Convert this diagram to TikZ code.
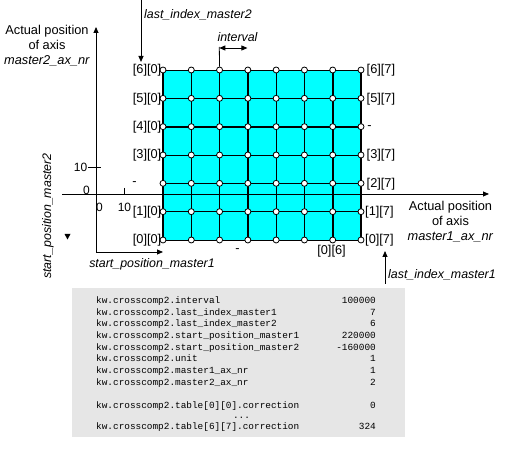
\documentclass[tikz,border=0pt]{standalone}
\usepackage{fontspec}
\setmainfont{Liberation Sans}
\setmonofont{Liberation Mono}
\usetikzlibrary{arrows.meta,calc}
\definecolor{gridcyan}{RGB}{0,255,255}
\definecolor{tablegray}{RGB}{230,230,230}
\begin{document}
\begin{tikzpicture}[x=1pt,y=-1pt,
  lbl/.style={font=\fontsize{12.8}{15}\selectfont, inner sep=0pt},
  nlbl/.style={font=\fontsize{12}{15}\selectfont, inner sep=0pt},
  ilbl/.style={font=\fontsize{12.4}{15}\selectfont\itshape, inner sep=0pt},
  thinl/.style={line width=0.9pt},
  thickl/.style={line width=1.9pt},
  gpt/.style={circle, draw, fill=white, line width=0.8pt, minimum size=6pt, inner sep=0pt},
  arr/.style={line width=0.8pt, -{Triangle[length=6pt,width=5pt]}},
  darr/.style={line width=0.8pt, {Triangle[length=6pt,width=5pt]}-{Triangle[length=6pt,width=5pt]}},
  axl/.style={line width=0.8pt},
  codel/.style={font=\fontsize{9.4}{11}\selectfont\ttfamily, inner sep=0pt, anchor=base west},
  codev/.style={font=\fontsize{9.4}{11}\selectfont\ttfamily, inner sep=0pt, anchor=base east},
  tablebox/.style={fill=tablegray, draw=none}
]
\useasboundingbox (0,0) rectangle (509,462);
\fill[white] (0,0) rectangle (509,462);

% grid coordinates
\foreach \i in {0,...,7}{
  \foreach \j in {0,...,6}{
    \coordinate (c\j-\i) at ({163+28.2857*\i},{240-28.3333*\j});
  }
}
\fill[gridcyan] (c0-0) rectangle (c6-7);

% vertical grid lines
\foreach \i in {1,2,4,5}{\draw[thinl] (c0-\i) -- (c6-\i);}
\foreach \i in {0,3,6,7}{\draw[thickl] (c0-\i) -- (c6-\i);}
% horizontal grid lines
\foreach \j in {0,1,2,3,5,6}{\draw[thinl] (c\j-0) -- (c\j-7);}
\draw[thickl] (c4-0) -- (c4-7);

% axes
\coordinate (yaxbot) at (96,252);
\coordinate (yaxtop) at (96,27);
\coordinate (xaxl) at (62,194);
\coordinate (xaxr) at (489,194);
\draw[arr] (yaxbot) -- (yaxtop);
\draw[arr] (xaxl) -- (xaxr);

% ticks
\coordinate (yt1) at (88,167);
\coordinate (yt2) at (101,167);
\draw[axl] (yt1) -- (yt2);
\coordinate (xt1) at (124,188);
\coordinate (xt2) at (124,194);
\draw[axl] (xt1) -- (xt2);
\node[nlbl, anchor=east] (t10y) at (87.5,167) {10};
\node[nlbl, anchor=east] (t0y) at (90,190) {0};
\node[nlbl] (t0x) at (99.5,207) {0};
\node[nlbl] (t10x) at (124.5,207) {10};

% grid points
\foreach \i in {0,...,7}{
  \foreach \j in {0,...,6}{
    \node[gpt] (p\j-\i) at (c\j-\i) {};
  }
}

% index labels left
\foreach \j in {6,5,4,3,1,0}{
  \node[lbl, anchor=east] (L\j) at ($(c\j-0)+(-1.5,0.5)$) {[\j][0]};
}
% index labels right
\foreach \j in {6,5,3,2}{
  \node[lbl, anchor=west] (R\j) at ($(c\j-7)+(5.5,0.5)$) {[\j][7]};
}
\foreach \j in {1,0}{
  \node[lbl, anchor=west] (R\j) at ($(c\j-7)+(4,0.5)$) {[\j][7]};
}
\node[lbl] (B6) at (331.5,251) {[0][6]};

% small dashes
\node[lbl] (d1) at (134.5,184) {-};
\node[lbl] (d2) at (369.5,127.5) {-};
\node[lbl] (d3) at (237.5,251) {-};

% axis titles
\node[lbl, align=center] (ytitle) at (47,46) {Actual position\\of axis\\\textit{master2\_ax\_nr}};
\node[lbl, align=center] (xtitle) at (450.5,222) {Actual position\\of axis\\\textit{master1\_ax\_nr}};

% start_position_master1
\coordinate (spm1end) at (163,252);
\draw[arr] (yaxbot) -- (spm1end);
\node[ilbl] (spm1) at (152,264) {start\_position\_master1};

% start_position_master2
\node[ilbl, rotate=90] (spm2) at (48,216) {start\_position\_master2};
\coordinate (tri1) at (64.5,234);
\coordinate (tri2) at (70.5,234);
\coordinate (tri3) at (67.5,239.5);
\fill (tri1) -- (tri2) -- (tri3) -- cycle;

% last_index_master2
\coordinate (lim2a) at (141,0);
\coordinate (lim2b) at (141,62);
\draw[arr] (lim2a) -- (lim2b);
\node[ilbl, anchor=west] (lim2) at (144,15) {last\_index\_master2};

% interval
\coordinate (intv) at (219.3,47);
\coordinate (intr) at (247.4,48);
\draw[axl] (p6-2) -- (intv);
\draw[darr] (intv |- intr) -- (intr);
\node[ilbl] (intlbl) at (237.5,37) {interval};

% last_index_master1
\coordinate (lim1a) at (385,284);
\coordinate (lim1b) at (385,251);
\draw[arr] (lim1a) -- (lim1b);
\node[ilbl, anchor=west] (lim1) at (388,275) {last\_index\_master1};

% table
\coordinate (tb1) at (72,288);
\coordinate (tb2) at (405,437);
\fill[tablebox] (tb1) rectangle (tb2);
\node[codel] (k1) at (96,303.5) {kw.crosscomp2.interval};
\node[codel] (k2) at (96,315.2) {kw.crosscomp2.last\_index\_master1};
\node[codel] (k3) at (96,326.8) {kw.crosscomp2.last\_index\_master2};
\node[codel] (k4) at (96,338.5) {kw.crosscomp2.start\_position\_master1};
\node[codel] (k5) at (96,350.2) {kw.crosscomp2.start\_position\_master2};
\node[codel] (k6) at (96,361.8) {kw.crosscomp2.unit};
\node[codel] (k7) at (96,373.5) {kw.crosscomp2.master1\_ax\_nr};
\node[codel] (k8) at (96,385.2) {kw.crosscomp2.master2\_ax\_nr};
\node[codel] (k9) at (96,408.5) {kw.crosscomp2.table[0][0].correction};
\node[codel, anchor=base] (kd) at (241.5,418) {...};
\node[codel] (k10) at (96,429.2) {kw.crosscomp2.table[6][7].correction};
\node[codev] (v1) at (376,303.5) {100000};
\node[codev] (v2) at (376,315.2) {7};
\node[codev] (v3) at (376,326.8) {6};
\node[codev] (v4) at (376,338.5) {220000};
\node[codev] (v5) at (376,350.2) {-160000};
\node[codev] (v6) at (376,361.8) {1};
\node[codev] (v7) at (376,373.5) {1};
\node[codev] (v8) at (376,385.2) {2};
\node[codev] (v9) at (376,408.5) {0};
\node[codev] (v10) at (376,429.2) {324};
\end{tikzpicture}
\end{document}
